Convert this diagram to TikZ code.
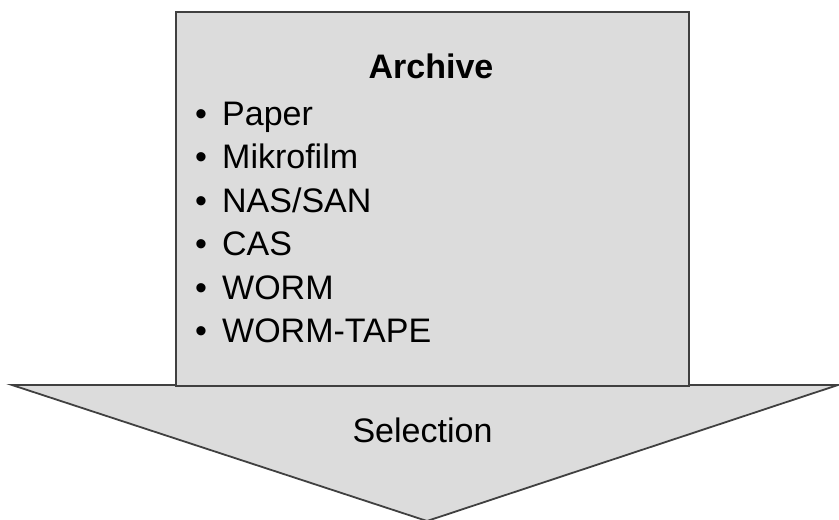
\documentclass[tikz,border=0pt]{standalone}
\usepackage{fontspec}
\setmainfont{Liberation Sans}
\definecolor{boxgray}{HTML}{DCDCDC}
\definecolor{linegray}{HTML}{404040}

\begin{document}
\begin{tikzpicture}[x=1pt,y=-1pt]
		\tikzset{BoxStyle/.style = {draw=linegray, fill=boxgray, line width=1.8pt, line join=miter},
			TextStyle/.style = {inner sep=0pt, font=\fontsize{34}{40}\selectfont}}
		\useasboundingbox (0,0) rectangle (839,520);
		% arrow head
		\coordinate (headL) at (12,385);
		\coordinate (headR) at (838,385);
		\coordinate (headTip) at (427,521);
		\filldraw[BoxStyle] (headL) -- (headR) -- (headTip) -- cycle;
		% archive box
		\node[BoxStyle, inner sep=0pt, minimum width=513, minimum height=374, anchor=north west] (archive) at (175,11) {};
		\node[TextStyle, anchor=base] (title) at (431,78) {\bfseries Archive};
		\foreach \medium [count=\i] in {Paper, Mikrofilm, NAS/SAN, CAS, WORM, WORM-TAPE}
			\node[TextStyle, anchor=base west] (item\i) at (195,81.5+43.5*\i) {\makebox[27pt][l]{\textbullet}\medium};
		\node[TextStyle, anchor=base] (selection) at (422.5,442) {Selection};
\end{tikzpicture}
\end{document}
